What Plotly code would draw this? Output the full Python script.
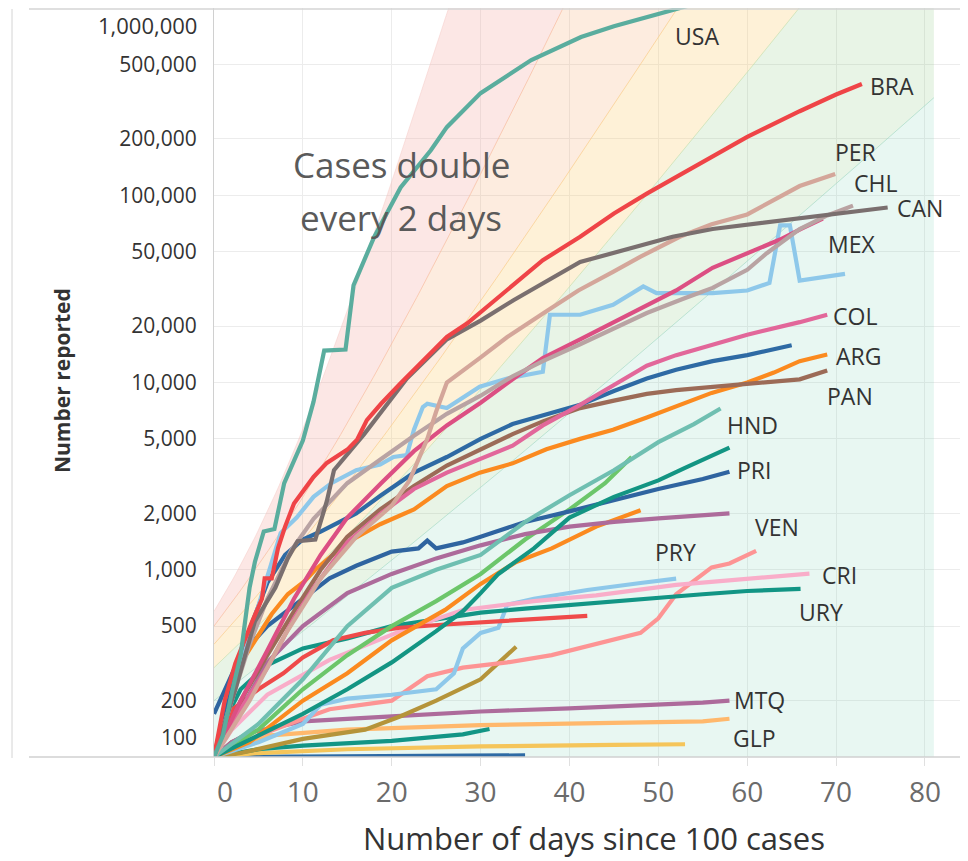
import numpy as np
import plotly.graph_objects as go

# ---------------- data ----------------
usa_days = [0, 1, 2, 3, 3.5, 4, 4.6, 5.6, 6.8, 7.9, 10, 11.2, 12.4, 14.8, 15.7, 18, 21, 24.4, 26.2, 30, 35.7, 41.3, 45, 49, 52.4, 55]
usa_cases = [100, 130, 220, 350, 530, 800, 1100, 1600, 1650, 2900, 4900, 7900, 14800, 15000, 33000, 59600, 110000, 174000, 231000, 351000, 527000, 700000, 800000, 900000, 1000000, 1080000]

bra_days = [0, 1.2, 2.4, 3.5, 4.3, 5.4, 5.7, 6.5, 7.2, 8, 9, 11.2, 12.7, 15, 16.1, 17.2, 18.8, 21, 23.3, 26.2, 28.5, 31.2, 33.7, 37, 41.2, 45, 48.7, 52, 56.1, 60, 65.9, 70, 72.9]
bra_cases = [100, 200, 316, 433, 530, 700, 900, 900, 1300, 1700, 2260, 3130, 3720, 4380, 4950, 6300, 7700, 9900, 12700, 17500, 20700, 26500, 33800, 45000, 60000, 80000, 102000, 125000, 160000, 205000, 281000, 345000, 393000]

per_days = [0, 4, 8, 12, 16, 20, 22, 24, 25, 26.2, 29.9, 33, 37.4, 41, 44.9, 48, 52.4, 56, 60, 65.9, 69.9]
per_cases = [100, 200, 450, 900, 1500, 2200, 3000, 5000, 7000, 10000, 13500, 17500, 24000, 31000, 39000, 47000, 60000, 70000, 79000, 112000, 130000]

chl_days = [0, 2, 4, 6, 8.7, 11.2, 15, 18.8, 22.5, 26.2, 30, 33.6, 37, 41.2, 45, 48.7, 52.8, 56.1, 60, 62.2, 65.9, 69, 71.9]
chl_cases = [100, 200, 400, 700, 1270, 1870, 2900, 3900, 5200, 6800, 8500, 10800, 13000, 16000, 19500, 23500, 28000, 32000, 40000, 49000, 66000, 78000, 88000]

can_days = [0, 2.4, 4.6, 6.9, 8.3, 9.4, 11.4, 12.7, 13.5, 16.9, 21.7, 26.2, 30, 33.7, 41.2, 51.6, 56.1, 65.9, 75.8]
can_cases = [100, 230, 530, 800, 1150, 1420, 1450, 2330, 3400, 5300, 10500, 17000, 21400, 27500, 44000, 60000, 66000, 75000, 86000]

mex_days = [0, 3, 6, 9, 12, 15, 18.8, 22.5, 26.2, 30, 33.6, 37, 41.2, 45, 48.7, 52, 56.1, 60, 63.7, 66, 68.5]
mex_cases = [100, 200, 370, 700, 1200, 1900, 2900, 4300, 5900, 7800, 10400, 13500, 17000, 21000, 26000, 31000, 41000, 49000, 58000, 66000, 75000]

col_days = [0, 3, 6, 9, 11.2, 15, 18.8, 22.5, 26.2, 30, 33.6, 37, 41.2, 45, 48.7, 52, 56.1, 60, 65.9, 69]
col_cases = [100, 180, 300, 550, 800, 1400, 2000, 2700, 3300, 3900, 4600, 5900, 7600, 9700, 12300, 14000, 16000, 18000, 21000, 23000]

ecu_days = [0, 2, 4, 6, 7.5, 9.3, 11.2, 13.2, 16, 18.7, 20.2, 21.7, 22.5, 23.5, 24, 26.2, 29.9, 33, 37, 37.8, 41.2, 44.9, 48.3, 49.8, 53.2, 56.1, 60, 62.5, 63.7, 64.8, 65.9, 71]
ecu_cases = [100, 200, 450, 900, 1570, 1900, 2450, 2900, 3400, 3650, 4000, 4100, 5600, 7400, 7700, 7300, 9500, 10500, 11400, 23000, 23000, 26000, 32600, 30000, 30000, 30000, 31000, 34000, 69000, 69000, 35000, 38000]

dom_days = [0, 2, 4, 6, 8, 10, 12, 14, 16, 18.8, 22.5, 26.2, 30, 33.6, 37, 41.2, 45, 48.7, 52, 56.1, 60, 65]
dom_cases = [100, 230, 480, 850, 1200, 1450, 1600, 1800, 2000, 2500, 3300, 4000, 5000, 6000, 6700, 7600, 9000, 10500, 11700, 13000, 14000, 15800]

pan_days = [0, 3, 6, 9, 12, 15, 18.7, 22.5, 26.2, 30, 33.6, 37, 41.2, 45, 48.7, 52, 56.1, 60, 65.9, 69]
pan_cases = [100, 200, 350, 600, 1000, 1500, 2100, 2800, 3600, 4400, 5300, 6200, 7300, 8000, 8700, 9100, 9500, 9900, 10400, 11600]

arg_days = [0, 1.2, 2.7, 4.6, 6.5, 8.3, 10.2, 11.4, 15, 18.7, 22.5, 26.2, 29.9, 33.6, 37.4, 41.2, 44.9, 48.7, 52.4, 56, 60, 63, 65.9, 69]
arg_cases = [100, 180, 300, 420, 580, 740, 870, 1000, 1400, 1750, 2100, 2800, 3300, 3700, 4400, 5000, 5600, 6500, 7600, 8800, 10000, 11300, 13000, 14100]

hnd_days = [0, 5, 10, 15, 20, 25, 30, 35, 40, 45, 50, 54, 57]
hnd_cases = [100, 150, 260, 500, 800, 1000, 1200, 1800, 2500, 3400, 4800, 6000, 7260]

gtm_days = [0, 5, 10, 15, 20, 25, 28, 30, 32, 36, 40, 45, 50, 53, 58]
gtm_cases = [100, 130, 170, 230, 320, 470, 600, 750, 950, 1300, 1900, 2450, 3000, 3500, 4490]

pri_days = [0, 3, 6, 10, 13, 16, 20, 23, 24, 25, 28, 30, 35, 40, 45, 50, 55, 58]
pri_cases = [170, 350, 500, 700, 900, 1050, 1250, 1300, 1430, 1300, 1400, 1500, 1800, 2050, 2350, 2700, 3050, 3340]

cub_days = [0, 3, 6, 10, 15, 20, 25, 30, 35, 40, 45, 50, 55, 58]
cub_cases = [100, 180, 320, 500, 750, 950, 1150, 1350, 1550, 1700, 1800, 1880, 1950, 2000]

grn_days = [0, 5, 10, 15, 20, 25, 30, 35, 40, 44, 47]
grn_cases = [100, 140, 230, 350, 500, 680, 950, 1450, 2100, 2900, 4000]

org2_days = [0, 4, 10, 15, 20, 26, 30, 34, 38, 43, 48]
org2_cases = [100, 120, 200, 280, 420, 610, 840, 1100, 1300, 1700, 2080]

red2_days = [0, 2.1, 5, 7.8, 10, 13.4, 17, 20.9, 26, 32.2, 37, 42]
red2_cases = [100, 180, 230, 280, 340, 420, 460, 490, 510, 530, 550, 567]

cri_days = [0, 2, 6, 13, 21, 28, 36, 43, 52, 60, 67]
cri_cases = [100, 140, 215, 330, 470, 610, 680, 730, 830, 890, 954]

pry_days = [0, 5, 10, 12, 15, 20, 25, 27, 28, 30, 32, 33, 36, 42, 48, 52]
pry_cases = [100, 120, 150, 190, 205, 215, 230, 280, 380, 460, 490, 650, 700, 780, 850, 896]

ven_days = [0, 5, 10, 13, 20, 24, 28, 33, 38, 43, 48, 50, 52, 56, 58, 61]
ven_cases = [100, 130, 160, 180, 200, 270, 300, 320, 350, 400, 460, 550, 740, 1030, 1080, 1260]

ury_days = [0, 1, 3, 6, 10, 15, 20, 25, 30, 35, 40, 45, 50, 55, 60, 66]
ury_cases = [100, 150, 230, 310, 380, 430, 500, 540, 590, 620, 650, 680, 710, 740, 770, 790]

olv_days = [0, 3, 10, 17, 21, 25, 30, 34]
olv_cases = [100, 105, 125, 140, 165, 200, 260, 388]

mtq_days = [0, 2, 4, 10, 20, 30, 40, 50, 55, 58]
mtq_cases = [100, 120, 135, 155, 165, 175, 182, 190, 195, 200]

glp_days = [0, 3, 6, 15, 30, 45, 55, 58]
glp_cases = [100, 115, 130, 140, 148, 152, 155, 160]

ylw_days = [0, 5, 15, 30, 45, 53]
ylw_cases = [100, 105, 110, 114, 116, 117]

tls_days = [0, 5, 10, 20, 28, 31]
tls_cases = [100, 110, 115, 122, 132, 141]

blb_days = [0, 35]
blb_cases = [100, 102]

brs_days = [0, 2, 4]
brs_cases = [100, 120, 132]

# labels (text, day, cases at text centre)
label_text = ["USA", "BRA", "PER", "CHL", "CAN", "MEX", "COL", "ARG", "PAN", "HND", "PRI", "VEN", "PRY", "CRI", "URY", "MTQ", "GLP"]
label_day = [54.3, 76.3, 72.2, 74.4, 79.4, 71.7, 72.1, 72.5, 71.6, 60.6, 60.8, 63.3, 51.9, 70.4, 68.3, 61.4, 60.8]
label_cases = [708000, 383000, 170000, 116000, 85500, 55000, 22700, 13900, 8500, 5900, 3400, 1690, 1240, 938, 594, 201, 126]

# doubling-time guide bands (stacked), days to double
doubling_days = [10, 7, 5, 4, 3, 2]
band_end_day = 81

y_tickvals = [200, 500, 1000, 2000, 5000, 10000, 20000, 50000, 100000, 200000, 500000]
x_tickvals = [0, 10, 20, 30, 40, 50, 60, 70, 80]
x_ticktext = ["\u00a0\u00a0\u00a00", "10", "20", "30", "40", "50", "60", "70", "80"]

# ---------------- figure ----------------
fig = go.Figure()

# guide bands
xb = np.linspace(0, band_end_day, 200)
comp = [100 * 2 ** (xb / d) for d in doubling_days]
cum = np.cumsum(comp, axis=0)
fig.add_trace(go.Scatter(x=[0, band_end_day], y=[90, 90], mode="lines",
                         line=dict(width=0), showlegend=False, hoverinfo="skip"))
band_cols = ["rgba(120,205,175,0.17)", "rgba(140,200,130,0.20)", "rgba(250,205,110,0.28)",
             "rgba(248,170,110,0.22)", "rgba(245,160,150,0.25)"]
edge_cols = ["rgba(160,215,195,0.8)", "rgba(200,225,175,0.9)", "rgba(250,205,140,0.9)",
             "rgba(248,190,160,0.9)", "rgba(245,200,195,0.6)"]
boundaries = [cum[1], cum[2], cum[3], cum[4], cum[5]]
for b, fc, ec in zip(boundaries, band_cols, edge_cols):
    fig.add_trace(go.Scatter(x=xb, y=np.minimum(b, 5e6), mode="lines", line=dict(width=0.8, color=ec),
                             fill="tonexty", fillcolor=fc, showlegend=False, hoverinfo="skip"))

series = [
    (blb_days, blb_cases, "#2e6aa4"),
    (ylw_days, ylw_cases, "#f5c55a"),
    (tls_days, tls_cases, "#129585"),
    (brs_days, brs_cases, "#a0705a"),
    (glp_days, glp_cases, "#ffb86c"),
    (mtq_days, mtq_cases, "#ad6b9b"),
    (olv_days, olv_cases, "#b5943a"),
    (ven_days, ven_cases, "#fd9494"),
    (pry_days, pry_cases, "#8ec8ea"),
    (ury_days, ury_cases, "#129585"),
    (cri_days, cri_cases, "#f9adc9"),
    (red2_days, red2_cases, "#ef4a4a"),
    (org2_days, org2_cases, "#fb8a1f"),
    (grn_days, grn_cases, "#6cc66a"),
    (cub_days, cub_cases, "#ad6b9b"),
    (pri_days, pri_cases, "#2f64a0"),
    (gtm_days, gtm_cases, "#139583"),
    (hnd_days, hnd_cases, "#6fbfb1"),
    (arg_days, arg_cases, "#fb8a1f"),
    (pan_days, pan_cases, "#9c6b57"),
    (dom_days, dom_cases, "#2e6aa4"),
    (col_days, col_cases, "#e2679a"),
    (ecu_days, ecu_cases, "#8ec8ea"),
    (mex_days, mex_cases, "#dc4f83"),
    (chl_days, chl_cases, "#b9a3a3"),
    (per_days, per_cases, "#d4a69a"),
    (can_days, can_cases, "#7a6f6f"),
    (bra_days, bra_cases, "#ef4447"),
    (usa_days, usa_cases, "#5aad9e"),
]
for d, c, col in series:
    fig.add_trace(go.Scatter(x=d, y=c, mode="lines", line=dict(color=col, width=4.2),
                             showlegend=False, hoverinfo="skip"))

FONT = "Open Sans"
ann = []
for t, d, c in zip(label_text, label_day, label_cases):
    ann.append(dict(x=d, y=np.log10(c), xref="x", yref="y", text=t, showarrow=False,
                    font=dict(family=FONT, size=23, color="#333333"), xanchor="center", yanchor="middle"))

# positions below are given in page pixels of the reference and converted to paper units
def px(xp):
    return (xp - 214) / 754

def py(yp):
    return (757 - yp) / 749

ann.append(dict(x=px(401), y=py(164), xref="paper", yref="paper", text="Cases double",
                showarrow=False, font=dict(family=FONT, size=35, color="#5a5a5a"), xanchor="center", yanchor="middle"))
ann.append(dict(x=px(401), y=py(217), xref="paper", yref="paper", text="every 2 days",
                showarrow=False, font=dict(family=FONT, size=35, color="#5a5a5a"), xanchor="center", yanchor="middle"))
ann.append(dict(x=px(199), y=py(737), xref="paper", yref="paper", text="100",
                showarrow=False, font=dict(family=FONT, size=21, color="#333333"), xanchor="right", yanchor="middle"))
ann.append(dict(x=px(199), y=py(25), xref="paper", yref="paper", text="1,000,000",
                showarrow=False, font=dict(family=FONT, size=22, color="#333333"), xanchor="right", yanchor="middle"))
ann.append(dict(x=px(62), y=py(381), xref="paper", yref="paper", text="<b>Number reported</b>",
                textangle=-90, showarrow=False, font=dict(family=FONT, size=21, color="#333333"),
                xanchor="center", yanchor="middle"))
ann.append(dict(x=px(594), y=py(861), xref="paper", yref="paper",
                text="Number of days since 100 cases", showarrow=False,
                font=dict(family=FONT, size=31, color="#333333"), xanchor="center", yanchor="bottom"))

shapes = [
    dict(type="line", xref="paper", yref="paper", x0=px(12), x1=px(12),
         y0=py(758), y1=py(9), line=dict(color="#d4d4d4", width=1)),
    dict(type="line", xref="paper", yref="paper", x0=px(29), x1=1,
         y0=py(9), y1=py(9), line=dict(color="#d4d4d4", width=1.5)),
    dict(type="line", xref="paper", yref="paper", x0=px(29), x1=1,
         y0=0, y1=0, line=dict(color="#d0d0d0", width=1.5)),
]

# the page body has an 8px margin: figure is 960x853 placed at (8,8)
fig.update_layout(
    width=960, height=853,
    margin=dict(l=206, r=0, t=0, b=104, autoexpand=False),
    paper_bgcolor="white", plot_bgcolor="white",
    showlegend=False,
    annotations=ann, shapes=shapes,
    xaxis=dict(range=[0, 84.84], tickvals=x_tickvals, ticktext=x_ticktext, showgrid=True,
               gridcolor="#ececec", gridwidth=1,
               zeroline=False, showline=False, ticks="outside", ticklen=8, tickcolor="#e0e0e0",
               tickfont=dict(family=FONT, size=28, color="#6b6b6b"), ticklabelstandoff=2),
    yaxis=dict(type="log", range=[2, 6], tickvals=y_tickvals,
               ticktext=[f"{v:,}" for v in y_tickvals], showgrid=True, gridcolor="#ececec", gridwidth=1,
               zeroline=False, showline=True, linecolor="#d0d0d0", linewidth=1, ticks="",
               tickfont=dict(family=FONT, size=21, color="#333333"), ticklabelstandoff=12),
)

fig.write_html("out.html")
